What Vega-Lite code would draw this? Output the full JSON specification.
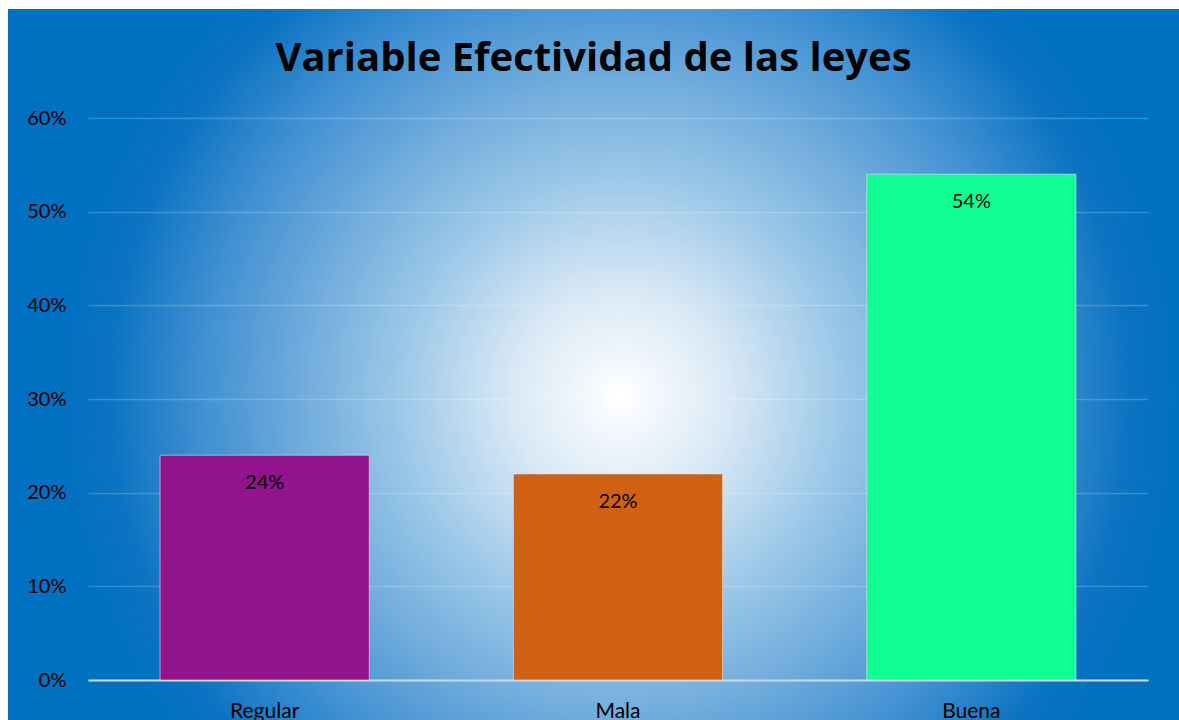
{
  "$schema": "https://vega.github.io/schema/vega-lite/v6.json",
  "width": 1171,
  "height": 711,
  "autosize": {"type": "none"},
  "padding": {"left": 8, "top": 9, "right": 0, "bottom": 0},
  "background": "#ffffff",
  "config": {
    "font": "Lato",
    "view": {
      "stroke": null,
      "fill": {
        "gradient": "radial",
        "x1": 0.523, "y1": 0.528, "r1": 0,
        "x2": 0.523, "y2": 0.528, "r2": 0.478,
        "stops": [
          {"offset": 0, "color": "#ffffff"},
          {"offset": 0.196, "color": "#d8e8f5"},
          {"offset": 0.393, "color": "#9cc8e8"},
          {"offset": 0.571, "color": "#70acdc"},
          {"offset": 0.75, "color": "#4090d2"},
          {"offset": 0.91, "color": "#0c74c2"},
          {"offset": 1, "color": "#0070c0"}
        ]
      }
    }
  },
  "title": {
    "text": "Variable Efectividad de las leyes",
    "font": "Open Sans",
    "fontSize": 40,
    "fontWeight": "bold",
    "color": "#000000",
    "anchor": "middle",
    "baseline": "alphabetic",
    "offset": -102
  },
  "data": {
    "values": [
      {"categoria": "Regular", "porcentaje": 0.24},
      {"categoria": "Mala", "porcentaje": 0.22},
      {"categoria": "Buena", "porcentaje": 0.54}
    ]
  },
  "encoding": {
    "x": {
      "field": "categoria",
      "type": "nominal",
      "sort": null,
      "scale": {"range": [80, 1140], "paddingInner": 0.408, "paddingOuter": 0.204},
      "axis": {
        "title": null,
        "labelAngle": 0,
        "ticks": false,
        "tickSize": 0,
        "labelPadding": 20,
        "labelFont": "Lato",
        "labelFontSize": 21,
        "labelColor": "#000000",
        "domainColor": "#c6d9ec",
        "domainWidth": 2,
        "offset": -40,
        "grid": false
      }
    },
    "y": {
      "field": "porcentaje",
      "type": "quantitative",
      "scale": {"domain": [0, 0.6], "range": [671, 109], "nice": false},
      "axis": {
        "title": null,
        "values": [0, 0.1, 0.2, 0.3, 0.4, 0.5, 0.6],
        "format": ".0%",
        "ticks": false,
        "tickSize": 0,
        "labelPadding": 22,
        "labelFont": "Lato",
        "labelFontSize": 20,
        "labelColor": "#000000",
        "domain": false,
        "offset": -80,
        "grid": true,
        "gridColor": "#ffffff",
        "gridOpacity": 0.2,
        "gridWidth": 1.5
      }
    }
  },
  "layer": [
    {
      "mark": {"type": "bar", "stroke": "#e6e6e6", "strokeWidth": 1, "strokeOpacity": 0.6},
      "encoding": {
        "color": {
          "field": "categoria",
          "type": "nominal",
          "scale": {"domain": ["Regular", "Mala", "Buena"], "range": ["#91148c", "#d06014", "#10ff92"]},
          "legend": null
        }
      }
    },
    {
      "mark": {"type": "text", "dy": 28, "fontSize": 20, "font": "Lato", "color": "#000000", "baseline": "middle"},
      "encoding": {
        "text": {"field": "porcentaje", "type": "quantitative", "format": ".0%"}
      }
    }
  ]
}
